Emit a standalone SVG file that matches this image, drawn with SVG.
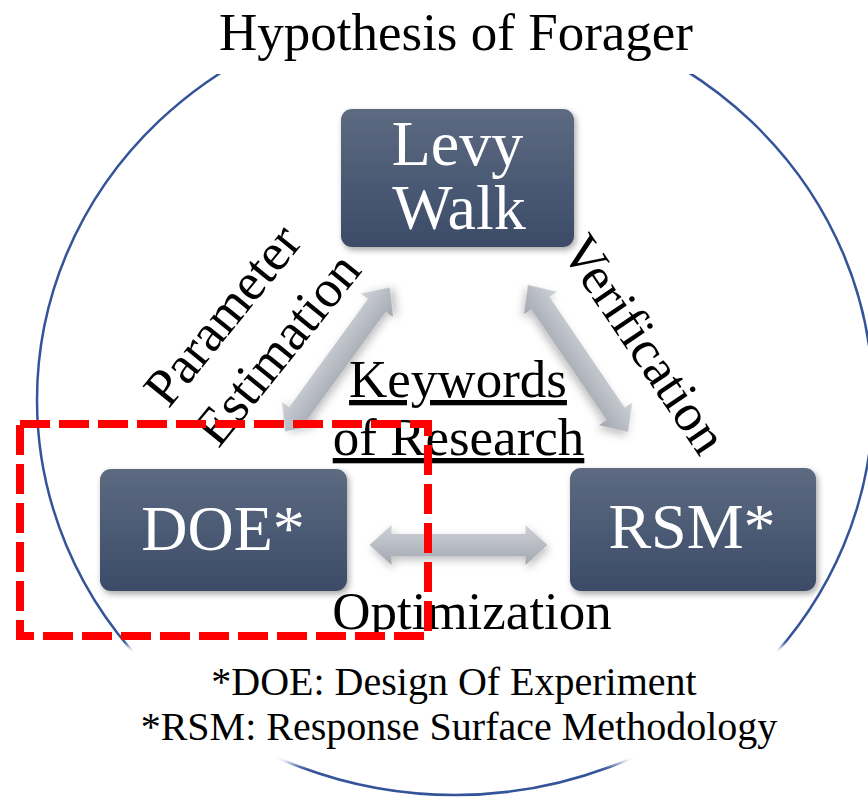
<svg xmlns="http://www.w3.org/2000/svg" width="868" height="802" viewBox="0 0 868 802">
  <defs>
    <style>
      .label { font-size: 53px; fill: #000; }
      .node-text { font-size: 64px; fill: #fff; text-anchor: middle; }
      .note { font-size: 40px; fill: #000; text-anchor: middle; }
      .box { fill: url(#boxGrad); filter: url(#boxShadow); }
      .arrow { fill: url(#arrowGrad); filter: url(#arrowShadow); }
      .ring { fill: none; stroke: #34549A; stroke-width: 2.5; }
      .highlight { fill: none; stroke: #FF0000; stroke-width: 8; stroke-dasharray: 30 9; }
    </style>
    <linearGradient id="boxGrad" x1="0" y1="0" x2="0" y2="1">
      <stop offset="0" stop-color="#5D6A81"/>
      <stop offset="1" stop-color="#3B4B68"/>
    </linearGradient>
    <linearGradient id="arrowGrad" x1="0" y1="0" x2="0" y2="1">
      <stop offset="0" stop-color="#CFD2D8"/>
      <stop offset="1" stop-color="#A2A6AF"/>
    </linearGradient>
    <filter id="boxShadow" x="-10%" y="-10%" width="125%" height="130%">
      <feDropShadow dx="2" dy="3" stdDeviation="3" flood-color="#000" flood-opacity="0.35"/>
    </filter>
    <filter id="arrowShadow" x="-20%" y="-40%" width="140%" height="200%">
      <feDropShadow dx="2" dy="4" stdDeviation="4" flood-color="#000" flood-opacity="0.25"/>
    </filter>
    <filter id="soft" x="-5%" y="-20%" width="110%" height="140%">
      <feGaussianBlur stdDeviation="3"/>
    </filter>
    <!-- double-headed block arrow, 178 long, centred on the origin -->
    <path id="dblArrow" d="M-89,0 L-67,-20 L-67,-11 L67,-11 L67,-20 L89,0 L67,20 L67,11 L-67,11 L-67,20 Z"/>
  </defs>

  <rect width="868" height="802" fill="#fff"/>

  <!-- outer ring, hidden behind the title and the footnotes -->
  <g id="ring">
    <ellipse class="ring" cx="455" cy="400" rx="418" ry="395"/>
    <rect x="0" y="0" width="868" height="74" fill="#fff"/>
    <rect x="-20" y="646" width="908" height="118" fill="#fff" filter="url(#soft)"/>
  </g>

  <g font-family="Liberation Serif, Times New Roman, DejaVu Serif, serif">
    <g id="title">
      <text class="label" x="456" y="50" text-anchor="middle">Hypothesis of Forager</text>
    </g>

    <!-- connectors -->
    <g id="connectors">
      <use href="#dblArrow" class="arrow" transform="translate(337.5,359.5) rotate(-54)"/>
      <use href="#dblArrow" class="arrow" transform="translate(578,358.5) rotate(55.8)"/>
      <use href="#dblArrow" class="arrow" transform="translate(458.5,545)"/>
    </g>

    <g id="node-levy">
      <rect class="box" x="341" y="109" width="233" height="138" rx="11"/>
      <text class="node-text" x="457.5" y="165">Levy</text>
      <text class="node-text" x="459" y="229">Walk</text>
    </g>

    <g id="node-doe">
      <rect class="box" x="100" y="469" width="247" height="122" rx="11"/>
      <text class="node-text" x="223" y="550">DOE*</text>
    </g>

    <g id="node-rsm">
      <rect class="box" x="570" y="468" width="246" height="123" rx="11"/>
      <text class="node-text" x="692" y="548">RSM*</text>
    </g>

    <g id="label-parameter" class="label" text-anchor="middle">
      <g transform="translate(236,326) rotate(-51)">
        <text x="0" y="0">Parameter</text>
        <text x="8" y="64">Estimation</text>
      </g>
    </g>

    <g id="label-verification" class="label" text-anchor="middle">
      <text transform="translate(630,354) rotate(56)">Verification</text>
    </g>

    <g id="label-keywords" class="label" text-anchor="middle">
      <text x="458" y="397" text-decoration="underline">Keywords</text>
      <text x="458.5" y="455" text-decoration="underline">of Research</text>
    </g>

    <g id="label-optimization">
      <text class="label" x="472" y="629" text-anchor="middle">Optimization</text>
    </g>

    <g id="footnotes">
      <text class="note" x="454" y="695">*DOE: Design Of Experiment</text>
      <text class="note" x="459" y="740">*RSM: Response Surface Methodology</text>
    </g>
  </g>

  <!-- dashed highlight around the DOE node -->
  <g id="highlight">
    <path class="highlight" d="M20,424 L428,424 L428,636 L20,636 Z"/>
  </g>
</svg>
